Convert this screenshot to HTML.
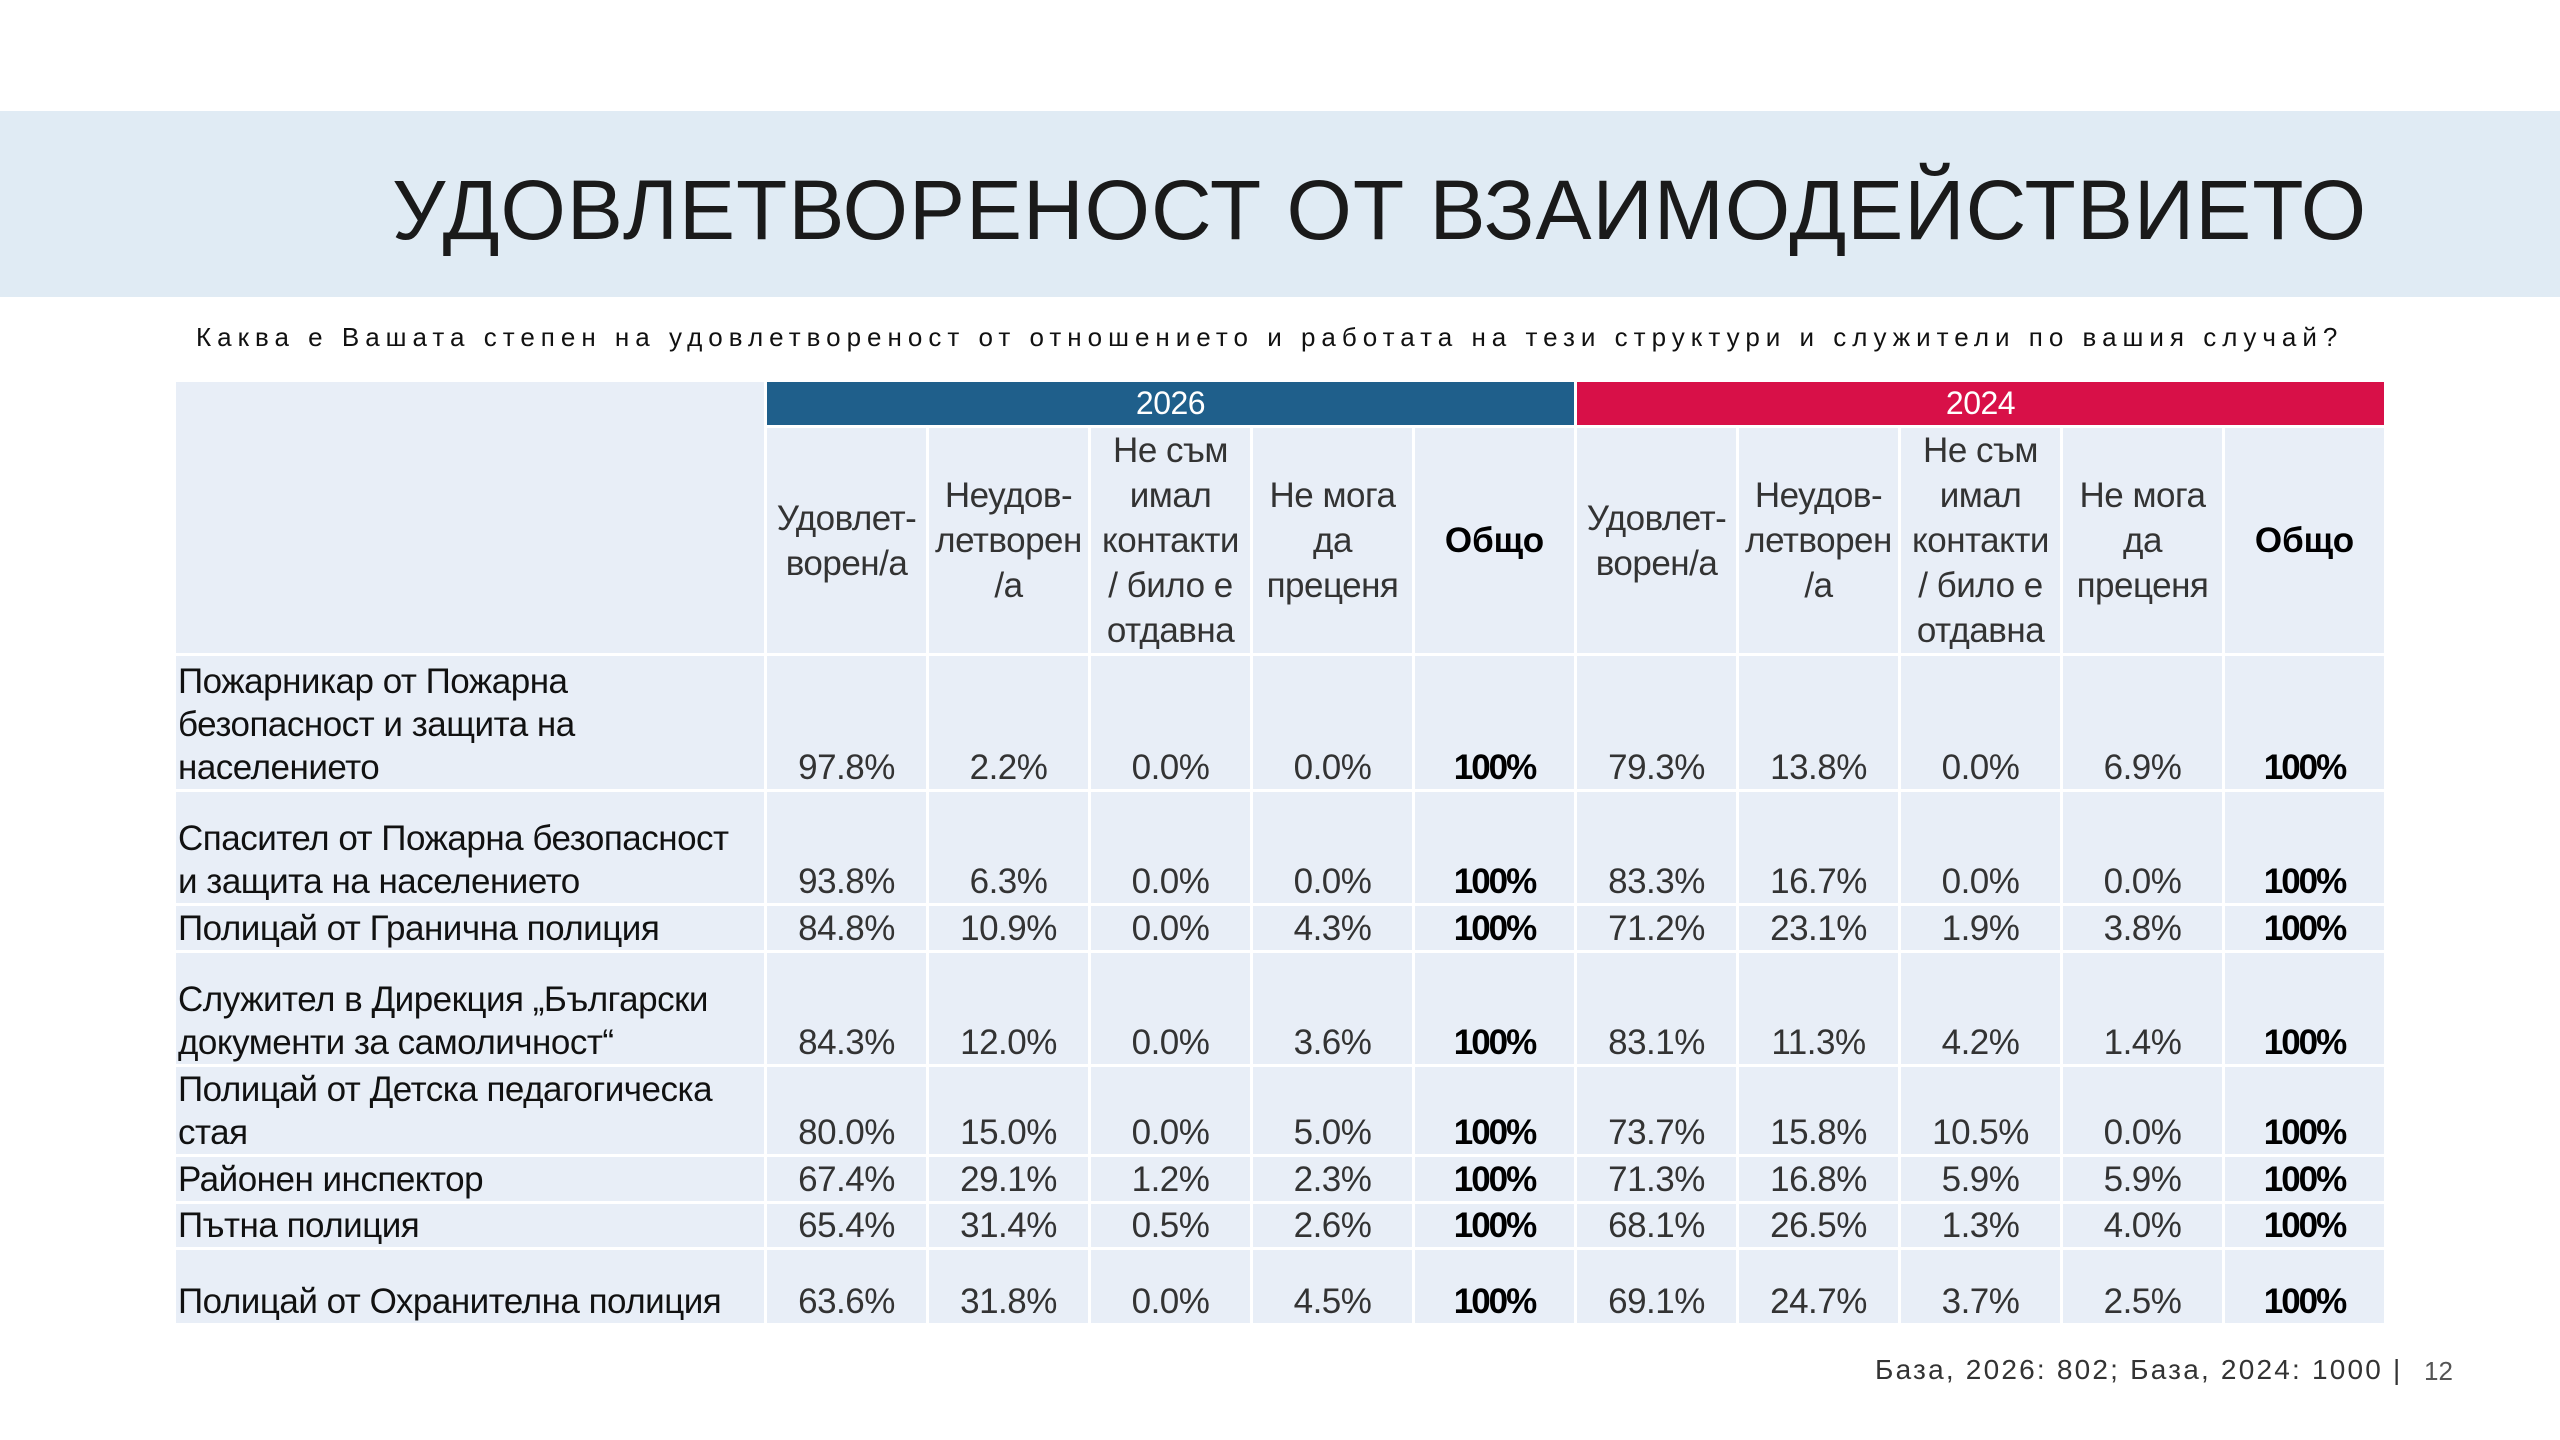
<!DOCTYPE html>
<html><head><meta charset="utf-8"><style>
body{margin:0;width:2560px;height:1440px;background:#fff;position:relative;overflow:hidden;font-family:"Liberation Sans","DejaVu Sans",sans-serif;}
.banner{position:absolute;left:0;top:111px;width:2560px;height:186px;background:#e0ebf4;}
.title{position:absolute;left:392px;top:168px;font-size:84px;letter-spacing:1px;color:#1a1a1a;white-space:nowrap;line-height:1;}
.sub{position:absolute;left:196px;top:322px;font-size:26px;letter-spacing:6px;color:#111;white-space:nowrap;}
table{position:absolute;left:173px;top:379px;border-collapse:separate;border-spacing:3px;table-layout:fixed;}
td{background:#e8eef7;padding:0;font-size:35px;line-height:43px;color:#333;text-align:center;vertical-align:bottom;letter-spacing:-0.5px;}
td.lab{text-align:left;color:#111;padding-left:2px;}
td.b{color:#000;font-weight:bold;letter-spacing:-2px;}
.y1{background:#1f5f8b;color:#fff;vertical-align:middle;height:43px;font-size:32px;line-height:43px;}
.y2{background:#d81048;color:#fff;vertical-align:middle;height:43px;font-size:32px;line-height:43px;}
tr.h td{vertical-align:middle;height:225px;line-height:45px;}
.foot{position:absolute;left:1875px;top:1354px;font-size:28px;color:#333;letter-spacing:2.2px;white-space:nowrap;}
.pg{position:absolute;left:2424px;top:1356px;font-size:26px;color:#555;}
</style></head><body>
<div class="banner"></div>
<div class="title">УДОВЛЕТВОРЕНОСТ ОТ ВЗАИМОДЕЙСТВИЕТО</div>
<div class="sub">Каква е Вашата степен на удовлетвореност от отношението и работата на тези структури и служители по вашия случай?</div>
<table>
<colgroup><col style="width:588px"><col style="width:159px"><col style="width:159px"><col style="width:159px"><col style="width:159px"><col style="width:159px"><col style="width:159px"><col style="width:159px"><col style="width:159px"><col style="width:159px"><col style="width:159px"></colgroup>
<tr><td rowspan="2"></td><td colspan="5" class="y1">2026</td><td colspan="5" class="y2">2024</td></tr>
<tr class="h"><td>Удовлет-<br>ворен/а</td><td>Неудов-<br>летворен<br>/а</td><td>Не съм<br>имал<br>контакти<br>/ било е<br>отдавна</td><td>Не мога<br>да<br>преценя</td><td class="b" style="letter-spacing:0">Общо</td><td>Удовлет-<br>ворен/а</td><td>Неудов-<br>летворен<br>/а</td><td>Не съм<br>имал<br>контакти<br>/ било е<br>отдавна</td><td>Не мога<br>да<br>преценя</td><td class="b" style="letter-spacing:0">Общо</td></tr>
<tr style="height:133px"><td class="lab">Пожарникар от Пожарна<br>безопасност и защита на<br>населението</td><td>97.8%</td><td>2.2%</td><td>0.0%</td><td>0.0%</td><td class="b">100%</td><td>79.3%</td><td>13.8%</td><td>0.0%</td><td>6.9%</td><td class="b">100%</td></tr>
<tr style="height:111px"><td class="lab">Спасител от Пожарна безопасност<br>и защита на населението</td><td>93.8%</td><td>6.3%</td><td>0.0%</td><td>0.0%</td><td class="b">100%</td><td>83.3%</td><td>16.7%</td><td>0.0%</td><td>0.0%</td><td class="b">100%</td></tr>
<tr style="height:44px"><td class="lab">Полицай от Гранична полиция</td><td>84.8%</td><td>10.9%</td><td>0.0%</td><td>4.3%</td><td class="b">100%</td><td>71.2%</td><td>23.1%</td><td>1.9%</td><td>3.8%</td><td class="b">100%</td></tr>
<tr style="height:111px"><td class="lab">Служител в Дирекция „Български<br>документи за самоличност“</td><td>84.3%</td><td>12.0%</td><td>0.0%</td><td>3.6%</td><td class="b">100%</td><td>83.1%</td><td>11.3%</td><td>4.2%</td><td>1.4%</td><td class="b">100%</td></tr>
<tr style="height:87px"><td class="lab">Полицай от Детска педагогическа<br>стая</td><td>80.0%</td><td>15.0%</td><td>0.0%</td><td>5.0%</td><td class="b">100%</td><td>73.7%</td><td>15.8%</td><td>10.5%</td><td>0.0%</td><td class="b">100%</td></tr>
<tr style="height:44px"><td class="lab">Районен инспектор</td><td>67.4%</td><td>29.1%</td><td>1.2%</td><td>2.3%</td><td class="b">100%</td><td>71.3%</td><td>16.8%</td><td>5.9%</td><td>5.9%</td><td class="b">100%</td></tr>
<tr style="height:43px"><td class="lab">Пътна полиция</td><td>65.4%</td><td>31.4%</td><td>0.5%</td><td>2.6%</td><td class="b">100%</td><td>68.1%</td><td>26.5%</td><td>1.3%</td><td>4.0%</td><td class="b">100%</td></tr>
<tr style="height:73px"><td class="lab">Полицай от Охранителна полиция</td><td>63.6%</td><td>31.8%</td><td>0.0%</td><td>4.5%</td><td class="b">100%</td><td>69.1%</td><td>24.7%</td><td>3.7%</td><td>2.5%</td><td class="b">100%</td></tr>
</table>
<div class="foot">База, 2026: 802; База, 2024: 1000 |</div>
<div class="pg">12</div>
</body></html>
